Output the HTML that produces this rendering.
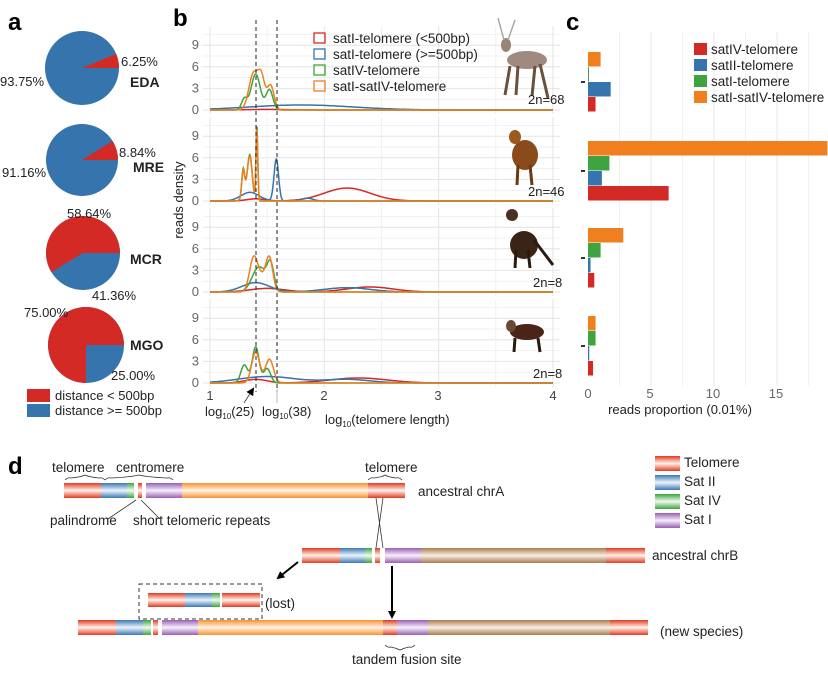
<!DOCTYPE html>
<html><head><meta charset="utf-8">
<style>
html,body{margin:0;padding:0;background:#fff;}
svg{display:block;font-family:"Liberation Sans",Arial,sans-serif;}
</style></head><body>
<svg id="s" width="828" height="674" viewBox="0 0 828 674" xmlns="http://www.w3.org/2000/svg">
<defs>
<linearGradient id="gT" x1="0" y1="0" x2="0" y2="1"><stop offset="0" stop-color="#e23a22"/><stop offset="0.5" stop-color="#fff4ea"/><stop offset="1" stop-color="#e23a22"/></linearGradient>
<linearGradient id="gB" x1="0" y1="0" x2="0" y2="1"><stop offset="0" stop-color="#3b78b6"/><stop offset="0.5" stop-color="#eef3fa"/><stop offset="1" stop-color="#3b78b6"/></linearGradient>
<linearGradient id="gG" x1="0" y1="0" x2="0" y2="1"><stop offset="0" stop-color="#3fa43f"/><stop offset="0.5" stop-color="#effaef"/><stop offset="1" stop-color="#3fa43f"/></linearGradient>
<linearGradient id="gP" x1="0" y1="0" x2="0" y2="1"><stop offset="0" stop-color="#9a5fb4"/><stop offset="0.5" stop-color="#f6effa"/><stop offset="1" stop-color="#9a5fb4"/></linearGradient>
<linearGradient id="gO" x1="0" y1="0" x2="0" y2="1"><stop offset="0" stop-color="#f59433"/><stop offset="0.5" stop-color="#fff3e6"/><stop offset="1" stop-color="#f59433"/></linearGradient>
<linearGradient id="gW" x1="0" y1="0" x2="0" y2="1"><stop offset="0" stop-color="#aa7a4e"/><stop offset="0.5" stop-color="#f8efe6"/><stop offset="1" stop-color="#aa7a4e"/></linearGradient>
<marker id="ar" markerWidth="8" markerHeight="8" refX="6" refY="4" orient="auto" markerUnits="userSpaceOnUse"><path d="M0,0 L8,4 L0,8 z" fill="#000"/></marker>
</defs>

<text x="8" y="30" font-size="24" font-weight="bold">a</text>
<text x="173" y="26" font-size="24" font-weight="bold">b</text>
<text x="566" y="30" font-size="24" font-weight="bold">c</text>
<text x="8" y="474" font-size="24" font-weight="bold">d</text>

<g id="pies"></g>
<g font-size="13" fill="#222">
<text x="121" y="66">6.25%</text><text x="0" y="86">93.75%</text>
<text x="119" y="157">8.84%</text><text x="2" y="177">91.16%</text>
<text x="67" y="218">58.64%</text><text x="92" y="300">41.36%</text>
<text x="24" y="317">75.00%</text><text x="111" y="380">25.00%</text>
</g>
<g font-size="14" font-weight="bold" fill="#222">
<text x="130" y="87">EDA</text><text x="133" y="172">MRE</text><text x="130" y="264">MCR</text><text x="130" y="350">MGO</text>
</g>
<rect x="27" y="389" width="23" height="13" fill="#d42a26"/>
<rect x="27" y="404" width="23" height="13" fill="#3574ad"/>
<text x="55" y="400" font-size="13" fill="#222">distance &lt; 500bp</text>
<text x="55" y="415" font-size="13" fill="#222">distance &gt;= 500bp</text>

<g id="pb"></g>
<text transform="translate(183,200) rotate(-90)" font-size="13" text-anchor="middle" fill="#222">reads density</text>
<g font-size="13" fill="#444" text-anchor="middle">
<text x="210" y="400">1</text><text x="324" y="400">2</text><text x="438" y="400">3</text><text x="553" y="400">4</text>
</g>
<g font-size="13" fill="#222">
<text x="205" y="416">log<tspan font-size="8" dy="3">10</tspan><tspan dy="-3">(25)</tspan></text>
<text x="262" y="416">log<tspan font-size="8" dy="3">10</tspan><tspan dy="-3">(38)</tspan></text>
<text x="325" y="424">log<tspan font-size="8" dy="3">10</tspan><tspan dy="-3">(telomere length)</tspan></text>
</g>
<line x1="244" y1="403" x2="253" y2="389" stroke="#333" stroke-width="0.8" marker-end="url(#ar)"/>
<line x1="277" y1="403" x2="277" y2="389" stroke="#aaa" stroke-width="0.8"/>
<g font-size="13.5" fill="#222">
<rect x="314" y="33" width="11" height="10" fill="none" stroke="#d42a26" stroke-width="1.3"/><text x="333" y="43">satI-telomere (&lt;500bp)</text>
<rect x="314" y="49" width="11" height="10" fill="none" stroke="#3574ad" stroke-width="1.3"/><text x="333" y="59">satI-telomere (&gt;=500bp)</text>
<rect x="314" y="65" width="11" height="10" fill="none" stroke="#3fa43f" stroke-width="1.3"/><text x="333" y="75">satIV-telomere</text>
<rect x="314" y="81" width="11" height="10" fill="none" stroke="#ef7f1f" stroke-width="1.3"/><text x="333" y="91">satI-satIV-telomere</text>
</g>
<g fill="#8a6a55">
<ellipse cx="527" cy="60" rx="20" ry="9" fill="#a08a80"/><ellipse cx="506" cy="45" rx="5" ry="7" fill="#9a8478"/>
<path d="M510,66 L505,95 M518,66 L516,95 M540,64 L548,98 M535,66 L532,96" stroke="#6a5040" stroke-width="3"/>
<path d="M504,40 L498,18 M508,40 L515,20" stroke="#aaa" stroke-width="1.5"/>
<ellipse cx="525" cy="155" rx="13" ry="15" fill="#8a4a1a"/><ellipse cx="515" cy="137" rx="6" ry="7" fill="#9a5a20"/>
<path d="M518,165 L517,185 M530,165 L532,185" stroke="#6a3a10" stroke-width="3"/>
<ellipse cx="524" cy="245" rx="14" ry="14" fill="#3a2418"/><ellipse cx="512" cy="215" rx="6" ry="6" fill="#4a3020"/>
<path d="M516,250 L515,268 M528,250 L530,268 M534,240 L553,265" stroke="#2a1a10" stroke-width="3"/>
<ellipse cx="527" cy="332" rx="17" ry="8" fill="#4a2418"/><ellipse cx="511" cy="326" rx="5" ry="6" fill="#6a4a30"/>
<path d="M515,338 L514,352 M538,338 L540,352" stroke="#2a1a10" stroke-width="3"/>
</g>
<g font-size="13" fill="#222">
<text x="528" y="104">2n=68</text><text x="528" y="196">2n=46</text><text x="533" y="287">2n=8</text><text x="533" y="378">2n=8</text>
</g>

<g id="pc"></g>
<g font-size="13.5" fill="#222">
<rect x="694" y="43" width="13" height="12" fill="#d42a26"/><text x="711" y="54">satIV-telomere</text>
<rect x="694" y="59" width="13" height="12" fill="#3574ad"/><text x="711" y="70">satII-telomere</text>
<rect x="694" y="75" width="13" height="12" fill="#3fa43f"/><text x="711" y="86">satI-telomere</text>
<rect x="694" y="91" width="13" height="12" fill="#ef7f1f"/><text x="711" y="102">satI-satIV-telomere</text>
</g>
<g font-size="13" fill="#666" text-anchor="middle">
<text x="588" y="398">0</text><text x="650" y="398">5</text><text x="713" y="398">10</text><text x="776" y="398">15</text>
</g>
<text x="680" y="414" font-size="13" fill="#222" text-anchor="middle">reads proportion (0.01%)</text>

<g id="pd"></g>
<g font-size="13.5" fill="#222">
<text x="52" y="472">telomere</text><text x="116" y="472">centromere</text><text x="365" y="472">telomere</text>
<text x="418" y="496">ancestral chrA</text>
<text x="50" y="525">palindrome</text><text x="133" y="525">short telomeric repeats</text>
<text x="652" y="560">ancestral chrB</text>
<text x="265" y="608">(lost)</text>
<text x="660" y="636">(new species)</text>
<text x="352" y="664">tandem fusion site</text>
<text x="684" y="467">Telomere</text><text x="684" y="486">Sat II</text><text x="684" y="505">Sat IV</text><text x="684" y="524">Sat I</text>
</g>
<g fill="none" stroke="#333" stroke-width="0.8">
<path d="M65,480 q3,-3 6,-2 q10,-1 14,-3 q4,2 14,3 q3,-1 6,2"/>
<path d="M105,480 q3,-3 6,-2 q20,-1 28,-3 q8,2 28,3 q3,-1 6,2"/>
<path d="M368,480 q3,-3 6,-2 q8,-1 11,-3 q3,2 11,3 q3,-1 6,2"/>
<path d="M385,645 q3,3 6,2 q5,1 9,3 q4,-2 9,-3 q3,1 6,-2"/>
<path d="M376,498 L383,548 M383,498 L376,548"/>
<path d="M108,519 L136,500 M160,519 L141,500"/>
</g>
<line x1="298" y1="562" x2="278" y2="578" stroke="#000" stroke-width="2" marker-end="url(#ar)"/>
<line x1="392" y1="566" x2="392" y2="617" stroke="#000" stroke-width="2" marker-end="url(#ar)"/>
<rect x="139" y="584" width="123" height="35" fill="none" stroke="#333" stroke-dasharray="4,3"/>
</svg>
<script>
var NS="http://www.w3.org/2000/svg";
function el(p,t,a){var e=document.createElementNS(NS,t);for(var k in a)e.setAttribute(k,a[k]);p.appendChild(e);return e;}
var pies=document.getElementById('pies');
function pie(cx,cy,r,frac){
 el(pies,'circle',{cx:cx,cy:cy,r:r,fill:'#3574ad'});
 var a=frac*2*Math.PI;var x=cx+r*Math.cos(-a),y=cy+r*Math.sin(-a);
 el(pies,'path',{d:'M'+cx+','+cy+' L'+(cx+r)+','+cy+' A'+r+','+r+' 0 '+(frac>0.5?1:0)+',0 '+x+','+y+' Z',fill:'#d42a26'});
}
pie(82,68,37,0.0625);pie(82,160,36,0.0884);pie(83,253,37,0.5864);pie(86,345,38,0.75);
var pb=document.getElementById('pb');
function X(v){return 210+114.3*(v-1);}
var bases=[110,201,292,383];
for(var i=0;i<4;i++){
 var b=bases[i];
 for(var d=0;d<=10.5;d+=1.5){var y=b-7.2*d;el(pb,'line',{x1:203,x2:560,y1:y,y2:y,stroke:d%3==0?'#e4e4e4':'#f1f1f1','stroke-width':1});}
 for(var v=1;v<=4;v+=0.5){el(pb,'line',{x1:X(v),x2:X(v),y1:b-84,y2:b+4,stroke:v%1==0?'#e4e4e4':'#f0f0f0'});}
 [0,3,6,9].forEach(function(t){var tx=el(pb,'text',{x:199,y:b-7.2*t+4,'font-size':13,fill:'#666','text-anchor':'end'});tx.textContent=t;});
}
var C={r:'#d42a26',b:'#3574ad',g:'#3fa43f',o:'#ef7f1f'};
var data=[
 {b:[[1.8,0.7,0.45]],r:[[1.5,0.08,0.2]],g:[[1.3,1.5,0.025],[1.40,5.0,0.04],[1.52,2.8,0.03]],o:[[1.38,5.0,0.04],[1.45,4.2,0.03],[1.53,3.4,0.03]]},
 {b:[[1.35,1.2,0.08],[1.58,5.8,0.02],[1.85,0.4,0.05]],r:[[1.4,0.3,0.08],[2.2,1.8,0.2]],g:[[1.29,3.6,0.012],[1.35,5.5,0.02],[1.41,10.5,0.008],[1.32,1.5,0.03]],o:[[1.29,3.4,0.012],[1.35,5.3,0.02],[1.41,10,0.008],[1.32,1.5,0.03]]},
 {b:[[1.4,1.3,0.12],[2.2,0.6,0.2]],r:[[1.5,0.5,0.15],[2.4,0.7,0.2]],g:[[1.43,3.5,0.06],[1.53,3.5,0.03]],o:[[1.38,4.2,0.035],[1.52,4.2,0.03],[1.45,2,0.05]]},
 {b:[[1.5,0.9,0.25],[2.2,0.5,0.2]],r:[[1.4,0.5,0.1],[2.3,0.7,0.25]],g:[[1.3,2.5,0.03],[1.4,5,0.03],[1.5,2.0,0.03]],o:[[1.4,4.3,0.035],[1.52,3.3,0.035]]}
];
for(var i=0;i<4;i++){
 ['r','b','g','o'].forEach(function(k){
  var gs=data[i][k],pts=[];
  for(var v=1;v<=4.001;v+=0.004){var s=0;gs.forEach(function(g){s+=g[1]*Math.exp(-0.5*Math.pow((v-g[0])/g[2],2));});pts.push(X(v).toFixed(1)+','+(bases[i]-7.2*s).toFixed(1));}
  el(pb,'polyline',{points:pts.join(' '),fill:'none',stroke:C[k],'stroke-width':1.5});
 });
}
[256,277].forEach(function(x){el(pb,'line',{x1:x,x2:x,y1:20,y2:392,stroke:'#222','stroke-dasharray':'4,3','stroke-width':1});});
var pc=document.getElementById('pc');
function CX(v){return 588+12.6*v;}
[2.5,5,7.5,10,12.5,15,17.5].forEach(function(v){el(pc,'line',{x1:CX(v),x2:CX(v),y1:32,y2:386,stroke:v%5==0?'#e8e8e8':'#f2f2f2'});});
var groups=[[52,[1.0,0.05,1.8,0.6]],[141,[19,1.7,1.1,6.4]],[228,[2.8,1.0,0.2,0.5]],[316,[0.6,0.6,0.1,0.4]]];
var cols=['#ef7f1f','#3fa43f','#3574ad','#d42a26'];
groups.forEach(function(g){for(var j=0;j<4;j++){el(pc,'rect',{x:588,y:g[0]+j*15,width:Math.max(1,12.6*g[1][j]),height:14.5,fill:cols[j]});}
 el(pc,'rect',{x:581,y:g[0]+29,width:4,height:2,fill:'#333'});});
var pd=document.getElementById('pd');
function bar(y,h,segs){segs.forEach(function(s){el(pd,'rect',{x:s[0],y:y,width:s[1]-s[0],height:h,fill:'url(#'+s[2]+')'});});}
bar(483,15,[[64,101,'gT'],[101,127,'gB'],[127,134,'gG'],[138,142,'gT'],[146,182,'gP'],[182,368,'gO'],[368,405,'gT']]);
bar(548,15,[[302,340,'gT'],[340,365,'gB'],[365,372,'gG'],[375,380,'gT'],[385,421,'gP'],[421,606,'gW'],[606,645,'gT']]);
bar(593,14,[[148,185,'gT'],[185,212,'gB'],[212,220,'gG'],[222,260,'gT']]);
bar(620,15,[[78,116,'gT'],[116,143,'gB'],[143,151,'gG'],[153,158,'gT'],[162,198,'gP'],[198,383,'gO'],[383,397,'gT'],[397,428,'gP'],[428,610,'gW'],[610,648,'gT']]);
[['gT',456],['gB',475],['gG',494],['gP',513]].forEach(function(l){el(pd,'rect',{x:655,y:l[1],width:25,height:15,fill:'url(#'+l[0]+')'});});
</script>
</body></html>
